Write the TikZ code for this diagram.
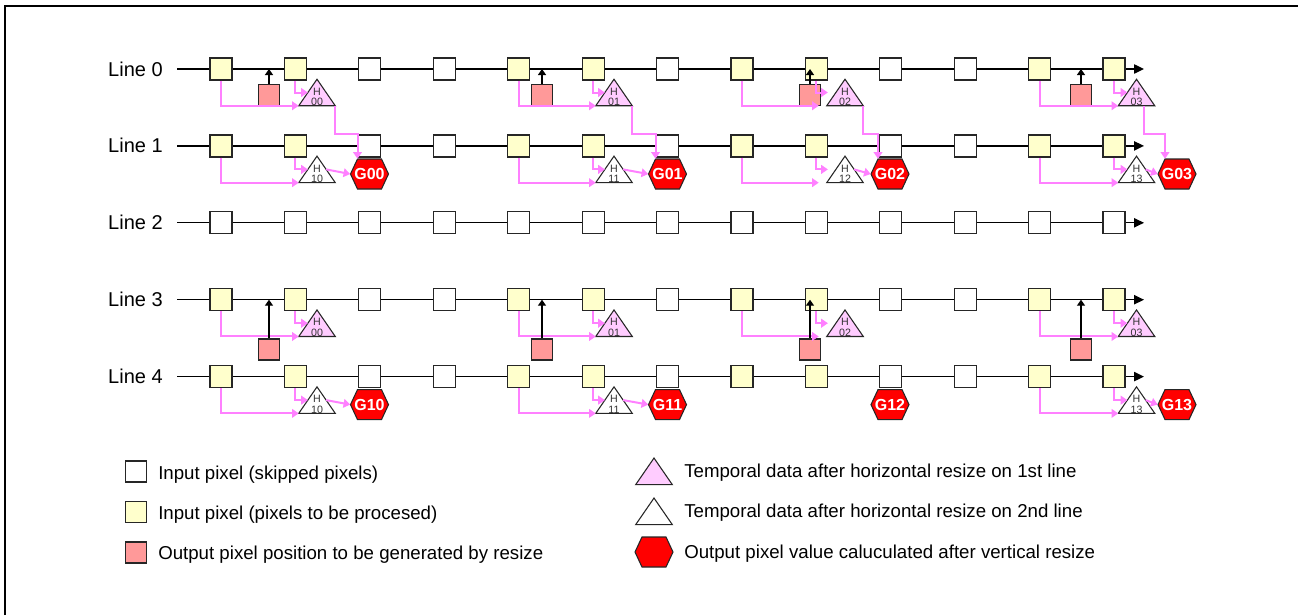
\documentclass[tikz,border=0pt]{standalone}
\usepackage{fontspec}
\setmainfont{Liberation Sans}
\usetikzlibrary{arrows.meta,calc}
\definecolor{pinkline}{RGB}{255,128,255}
\definecolor{pinkfill}{RGB}{255,204,255}
\definecolor{yel}{RGB}{255,255,204}
\definecolor{redsq}{RGB}{255,153,153}
\definecolor{hexred}{RGB}{255,0,0}
\tikzset{
 px/.style={x=0.75pt,y=-0.75pt},
 pixbox/.style={draw=black!85, line width=0.9pt, minimum size=22*0.75pt, inner sep=0pt},
 wsq/.style={pixbox, fill=white},
 ysq/.style={pixbox, fill=yel},
 rsq/.style={pixbox, fill=redsq, minimum size=21*0.75pt},
 axisline/.style={line width=1pt, -{Triangle[length=7.5pt,width=7pt]}},
 uparrow/.style={line width=1pt, -{Triangle[length=4.5pt,width=6pt]}},
 pinkarrow/.style={draw=pinkline, line width=1.5pt, -{Triangle[length=5pt,width=6.5pt]}},
 tribox/.style={minimum width=36*0.75pt, minimum height=26*0.75pt, inner sep=0pt},
 triborder/.style={draw=black!85, line width=0.8pt},
 trilabel/.style={font=\fontsize{8}{8}\selectfont, text=black!80, align=center, inner sep=0pt},
 hexbox/.style={minimum width=38*0.75pt, minimum height=30*0.75pt, inner sep=0pt, text=white, font=\fontsize{12}{12}\selectfont\bfseries},
 hexborder/.style={fill=hexred, draw=black!85, line width=0.8pt},
 linelabel/.style={font=\fontsize{15}{15}\selectfont, anchor=base east, inner sep=0pt},
 legtext/.style={font=\fontsize{14}{14}\selectfont, anchor=base west, inner sep=0pt},
}
% name, x, y, fill, label
\newcommand{\mytri}[5]{%
 \node[tribox] (#1) at (#2,#3) {};
 \path[triborder, fill=#4] (#1.south west) -- (#1.north) -- (#1.south east) -- cycle;
 \node[trilabel] (#1t) at ($(#1.center)+(0,4.5)$) {#5};
}
% name, x, y, label
\newcommand{\myhex}[4]{%
 \coordinate (#1c) at (#2,#3);
 \path[hexborder] ($(#1c)+(-19,0)$) -- ($(#1c)+(-12,-15)$) -- ($(#1c)+(12,-15)$) -- ($(#1c)+(19,0)$) -- ($(#1c)+(12,15)$) -- ($(#1c)+(-12,15)$) -- cycle;
 \node[hexbox] (#1) at (#1c) {#4};
}
\begin{document}
\begin{tikzpicture}[px]
\useasboundingbox (0,0) rectangle (1298,615);
\draw[line width=1.5pt] (5,615) -- (5,6) -- (1298,6);
\coordinate (mid) at (0,134);

\foreach \li in {0,...,4} {
  \pgfmathsetmacro\yy{69+76.9*\li}
  \coordinate (A\li) at (177,\yy);
  \coordinate (B\li) at (1144,\yy);
  \node[linelabel] (lab\li) at (163,\yy+7) {Line \li};
  \draw[axisline] (A\li) -- (B\li);
  \foreach \i/\sty in {0/ysq,1/ysq,2/wsq,3/wsq,4/ysq,5/ysq,6/wsq,7/ysq,8/ysq,9/wsq,10/wsq,11/ysq,12/ysq} {
    \pgfmathsetmacro\xx{221+74.42*\i}
    \ifnum\li=2 \def\sty{wsq}\fi
    \node[\sty] (P\li-\i) at (\xx,\yy) {};
  }
}

\foreach \g/\ga/\gb/\tx/\gap/\sto/\gx/\rx in {0/0/1/317/0/0/369.5/269, 1/4/5/614/0/0/667.5/542, 2/7/8/845/8/0/890/810, 3/11/12/1136.5/0/10.5/1177/1081} {
  \node[rsq] (R0-\g) at (\rx,94.7) {};
  \node[rsq] (R3-\g) at (\rx,349.5) {};
  \foreach \li/\fc/\dd in {0/pinkfill/0, 1/white/1, 3/pinkfill/0, 4/white/1} {
    \pgfmathtruncatemacro\skipit{and(\li==4,\g==2)}
    \ifnum\skipit=0
      \pgfmathsetmacro\yy{69+76.9*\li}
      \mytri{T\li-\g}{\tx}{\yy+23.5}{\fc}{H\\\dd\g}
      \draw[pinkarrow] (P\li-\ga.south) |- ($(T\li-\g.south west)+(-\gap,0)$);
      \draw[pinkarrow] (P\li-\gb.south) |- ($(T\li-\g.north)!0.5!(T\li-\g.south west)+(-\gap,0)$);
    \fi
  }
  \myhex{G0\g}{\gx}{174}{G0\g}
  \myhex{G1\g}{\gx}{404.6}{G1\g}
  \draw[pinkarrow] ($(T0-\g.south east)+(-\sto,0)$) coordinate (S\g) -- (S\g |- mid) -| ($(G0\g.north)+(-12,0)$);
  \draw[pinkarrow] ($(T1-\g.north)!0.5!(T1-\g.south east)$) -- (G0\g.west);
  \ifnum\g=2 \else
    \draw[pinkarrow] ($(T4-\g.north)!0.5!(T4-\g.south east)$) -- (G1\g.west);
  \fi
  \draw[uparrow] (R0-\g.north) -- (R0-\g.north |- A0);
  \draw[uparrow] (R3-\g.north) -- (R3-\g.north |- A3);
}

% legend
\node[wsq, minimum size=21*0.75pt] (lg1) at (136,471.5) {};
\node[ysq, minimum size=21*0.75pt] (lg2) at (136,511.7) {};
\node[rsq] (lg3) at (136,552.5) {};
\node[legtext] (lt1) at (158,479) {Input pixel (skipped pixels)};
\node[legtext] (lt2) at (158,519) {Input pixel (pixels to be procesed)};
\node[legtext] (lt3) at (158,559) {Output pixel position to be generated by resize};
\mytri{lg4}{654}{471.3}{pinkfill}{}
\mytri{lg5}{654}{511.3}{white}{}
\myhex{lg6}{654}{552}{}
\node[legtext] (lt4) at (684,477.7) {Temporal data after horizontal resize on 1st line};
\node[legtext] (lt5) at (684,517.7) {Temporal data after horizontal resize on 2nd line};
\node[legtext] (lt6) at (684,558.3) {Output pixel value caluculated after vertical resize};
\end{tikzpicture}
\end{document}
